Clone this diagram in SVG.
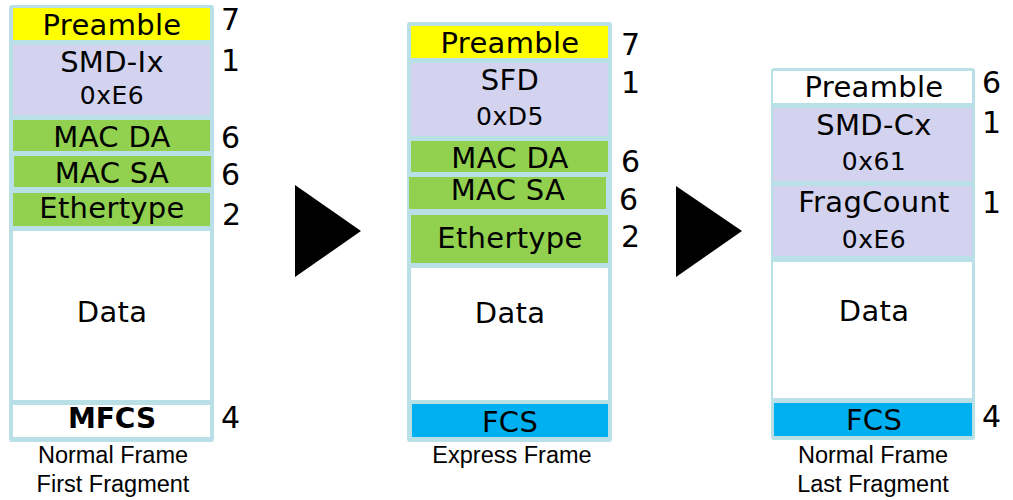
<svg xmlns="http://www.w3.org/2000/svg" width="1013" height="500" viewBox="0 0 1013 500">
<style>
.frame{fill:#b9e0e6}
.y{fill:#ffff00}
.p{fill:#d3d3f0}
.g{fill:#92d050}
.w{fill:#ffffff}
.c{fill:#00b0f0}
.lbl{font-family:"DejaVu Sans",sans-serif;font-size:29px;fill:#000;text-anchor:middle;letter-spacing:0.3px}
.hex{font-family:"DejaVu Sans",sans-serif;font-size:25px;fill:#000;text-anchor:middle;letter-spacing:0.5px}
.bold{font-family:"DejaVu Sans",sans-serif;font-size:28px;font-weight:bold;fill:#000;text-anchor:middle}
.num{font-family:"DejaVu Sans",sans-serif;font-size:30px;fill:#000}
.cap{font-family:"Liberation Sans",Arial,sans-serif;font-size:23.5px;fill:#000;text-anchor:middle}
.arrow{fill:#000}
</style>
<rect width="1013" height="500" fill="#ffffff"/>

<g id="frame1">
<rect class="frame" x="9" y="5" width="205" height="437" rx="3"/>
<rect class="y" x="13" y="8" width="197" height="32"/>
<rect class="p" x="13" y="45" width="197" height="70"/>
<rect class="g" x="13" y="120" width="197" height="31"/>
<rect class="g" x="14" y="156" width="197" height="31"/>
<rect class="g" x="13" y="193" width="197" height="33"/>
<rect class="w" x="13" y="231" width="197" height="169"/>
<rect class="w" x="13" y="405" width="197" height="32"/>
<text class="lbl" x="112" y="35">Preamble</text>
<text class="lbl" x="112" y="72">SMD-Ix</text>
<text class="hex" x="112" y="104">0xE6</text>
<text class="lbl" x="112" y="147">MAC DA</text>
<text class="lbl" x="112" y="183">MAC SA</text>
<text class="lbl" x="112" y="218">Ethertype</text>
<text class="lbl" x="112" y="322">Data</text>
<text class="bold" x="112" y="428">MFCS</text>
<text class="num" x="221" y="30">7</text>
<text class="num" x="221" y="71">1</text>
<text class="num" x="221" y="148">6</text>
<text class="num" x="221" y="185">6</text>
<text class="num" x="222" y="225">2</text>
<text class="num" x="221" y="428">4</text>
<text class="cap" x="113" y="463">Normal Frame</text>
<text class="cap" x="113" y="492">First Fragment</text>
</g>

<g id="frame2">
<rect class="frame" x="407" y="22" width="205" height="420" rx="3"/>
<rect class="y" x="411" y="26" width="197" height="32"/>
<rect class="p" x="411" y="63" width="197" height="73"/>
<rect class="g" x="411" y="141" width="197" height="31"/>
<rect class="g" x="409" y="177" width="197" height="32"/>
<rect class="g" x="411" y="215" width="197" height="48"/>
<rect class="w" x="411" y="268" width="197" height="132"/>
<rect class="c" x="412" y="404" width="196" height="33"/>
<text class="lbl" x="510" y="53">Preamble</text>
<text class="lbl" x="510" y="90">SFD</text>
<text class="hex" x="510" y="125">0xD5</text>
<text class="lbl" x="510" y="168">MAC DA</text>
<text class="lbl" x="508" y="200">MAC SA</text>
<text class="lbl" x="510" y="248">Ethertype</text>
<text class="lbl" x="510" y="323">Data</text>
<text class="lbl" x="510" y="432">FCS</text>
<text class="num" x="621" y="55">7</text>
<text class="num" x="621" y="93">1</text>
<text class="num" x="621" y="172">6</text>
<text class="num" x="619" y="210">6</text>
<text class="num" x="621" y="247">2</text>
<text class="cap" x="512" y="463">Express Frame</text>
</g>

<g id="frame3">
<rect class="frame" x="771" y="68" width="204" height="372" rx="3"/>
<rect class="w" x="773" y="71" width="199" height="32"/>
<rect class="p" x="773" y="108" width="199" height="73"/>
<rect class="p" x="773" y="186" width="199" height="70"/>
<rect class="w" x="773" y="262" width="199" height="136"/>
<rect class="c" x="774" y="403" width="198" height="33"/>
<text class="lbl" x="874" y="97">Preamble</text>
<text class="lbl" x="874" y="135">SMD-Cx</text>
<text class="hex" x="874" y="170">0x61</text>
<text class="lbl" x="874" y="212">FragCount</text>
<text class="hex" x="874" y="248">0xE6</text>
<text class="lbl" x="874" y="321">Data</text>
<text class="lbl" x="874" y="430">FCS</text>
<text class="num" x="982" y="93">6</text>
<text class="num" x="982" y="133">1</text>
<text class="num" x="982" y="213">1</text>
<text class="num" x="982" y="427">4</text>
<text class="cap" x="873" y="463">Normal Frame</text>
<text class="cap" x="873" y="492">Last Fragment</text>
</g>

<g id="connectors">
<polygon class="arrow" points="295,185 361,231 295,277"/>
<polygon class="arrow" points="676,186 742,231 676,277"/>
</g>
</svg>
